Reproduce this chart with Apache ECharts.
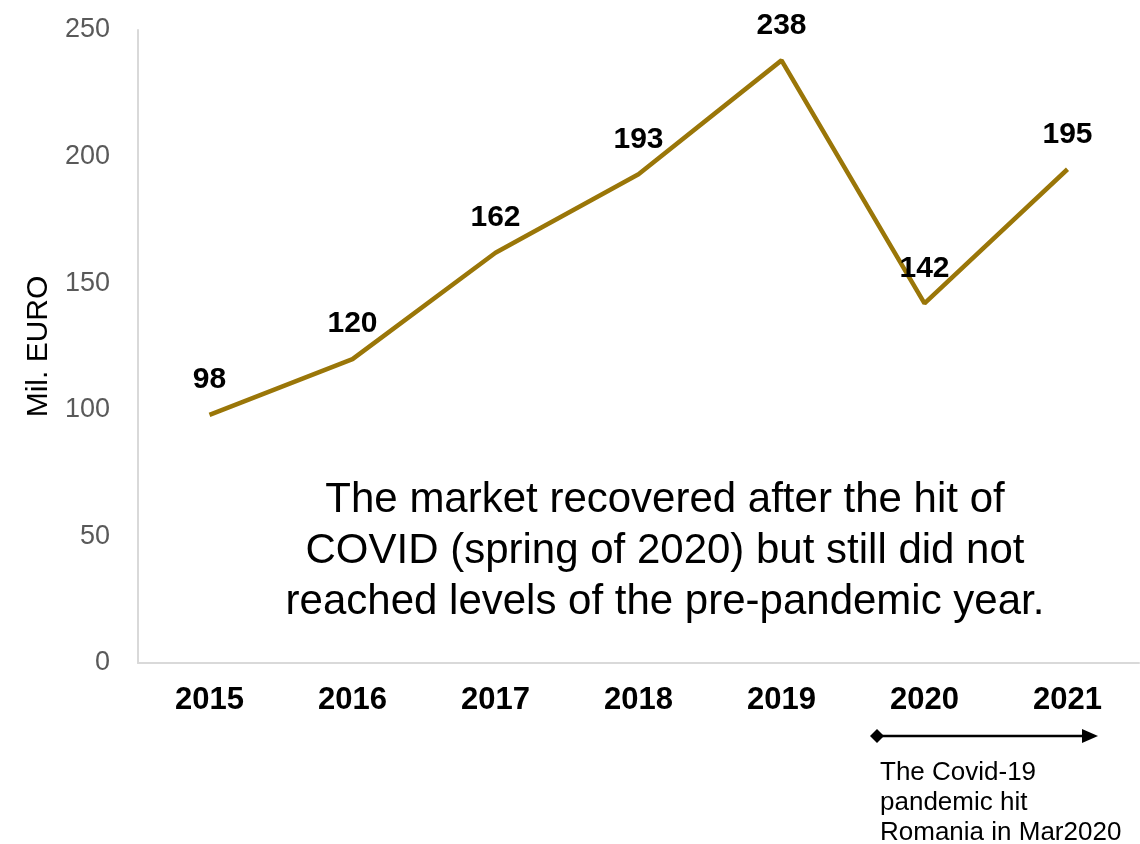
<!DOCTYPE html>
<html><head><meta charset="utf-8">
<script src="https://cdn.jsdelivr.net/npm/echarts@6/dist/echarts.min.js"></script>
<style>html,body{margin:0;padding:0;background:#fff}#c{width:1140px;height:844px}</style>
</head><body><div id="c"></div>
<script>
const categories = ['2015','2016','2017','2018','2019','2020','2021'];
const values = [98,120,162,193,238,142,195];
const yTicks = [0,50,100,150,200,250];
const yTitle = 'Mil. EURO';
const noteMain = 'The market recovered after the hit of\nCOVID (spring of 2020) but still did not\nreached levels of the pre-pandemic year.';
const noteCovid = 'The Covid-19\npandemic hit\nRomania in Mar2020';

const chart = echarts.init(document.getElementById('c'));
const FONT = '"Liberation Sans", Arial, sans-serif';
chart.setOption({
  animation:false,
  grid:{left:138,right:1,top:30,bottom:181,containLabel:false},
  xAxis:{type:'category',data:categories,boundaryGap:true,
    axisLine:{show:true,lineStyle:{color:'#d9d9d9',width:2}},
    axisTick:{show:false},
    axisLabel:{color:'#000',fontWeight:'bold',fontSize:31,fontFamily:FONT,margin:22}},
  yAxis:{type:'value',min:yTicks[0],max:yTicks[yTicks.length-1],interval:50,
    name:yTitle,nameLocation:'middle',nameGap:84,nameRotate:90,
    nameTextStyle:{color:'#000',fontSize:30,fontFamily:FONT},
    axisLine:{show:true,lineStyle:{color:'#d9d9d9',width:2}},
    axisTick:{show:false},splitLine:{show:false},
    axisLabel:{color:'#595959',fontSize:27,fontFamily:FONT,margin:28}},
  series:[{type:'line',data:values,symbol:'circle',symbolSize:2,showSymbol:true,
    itemStyle:{color:'rgba(0,0,0,0)',borderWidth:0},
    lineStyle:{color:'#9a7608',width:4.5},
    label:{show:true,position:'top',distance:19,color:'#000',fontWeight:'bold',fontSize:30,fontFamily:FONT}}],
  graphic:[
    {type:'text',position:[665,475],style:{text:noteMain,fill:'#000',font:'42px '+FONT,textAlign:'center',lineHeight:51}},
    {type:'line',shape:{x1:877,y1:736,x2:1085,y2:736},style:{stroke:'#000',lineWidth:2.5}},
    {type:'polygon',shape:{points:[[870,736],[877,729],[884,736],[877,743]]},style:{fill:'#000'}},
    {type:'polygon',shape:{points:[[1082,729],[1098,736],[1082,743]]},style:{fill:'#000'}},
    {type:'text',position:[880,758],style:{text:noteCovid,fill:'#000',font:'26px '+FONT,lineHeight:30}}
  ]
});
</script></body></html>
